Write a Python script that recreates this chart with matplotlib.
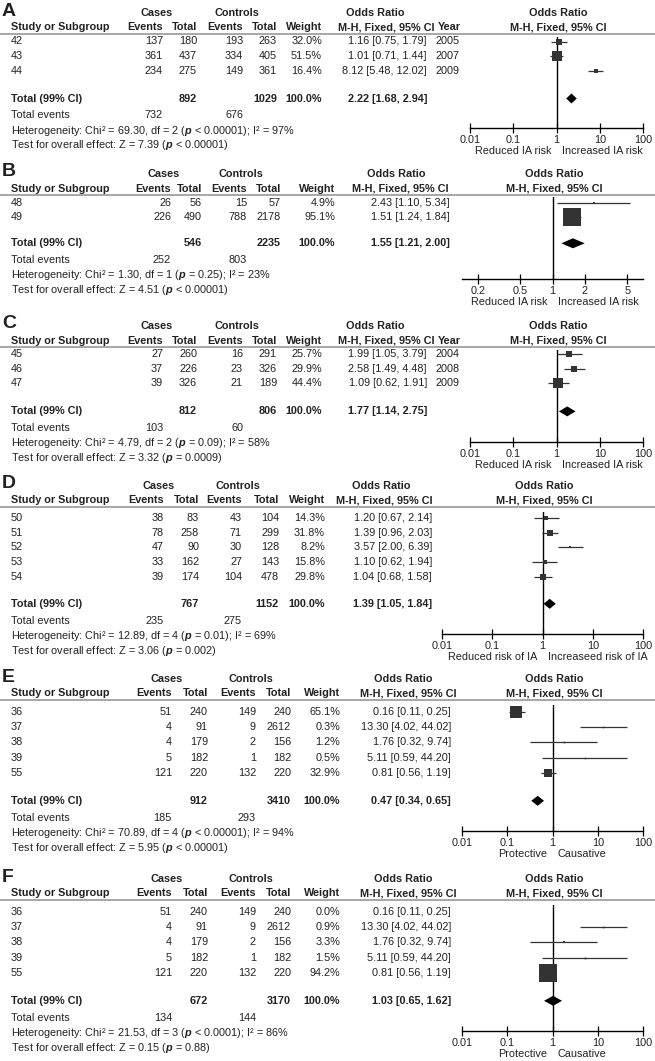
import matplotlib.pyplot as plt
from matplotlib.lines import Line2D
from matplotlib.ticker import NullLocator
from matplotlib.transforms import offset_copy

plt.rcParams['font.family'] = ['Liberation Sans', 'DejaVu Sans']
plt.rcParams['mathtext.fontset'] = 'custom'
plt.rcParams['mathtext.rm'] = 'Liberation Sans'
plt.rcParams['mathtext.bfit'] = 'Liberation Sans:bold:italic'

P = r'$\mathbfit{p}$'

# ---- panel A
a_study = ['42', '43', '44']
a_case_ev = [137, 361, 234]
a_case_n = [180, 437, 275]
a_ctrl_ev = [193, 334, 149]
a_ctrl_n = [263, 405, 361]
a_weight = [32.0, 51.5, 16.4]
a_or = [1.16, 1.01, 8.12]
a_lo = [0.75, 0.71, 5.48]
a_hi = [1.79, 1.44, 12.02]
a_year = [2005, 2007, 2009]
a_total = [892, 1029, 2.22, 1.68, 2.94]
a_events = [732, 676]
a_het = 'Heterogeneity: Chi² = 69.30, df = 2 (' + P + ' < 0.00001); I² = 97%'
a_test = 'Test for overall effect: Z = 7.39 (' + P + ' < 0.00001)'
a_ticks = [0.01, 0.1, 1, 10, 100]
a_dir = ['Reduced IA risk', 'Increased IA risk']

# ---- panel B
b_study = ['48', '49']
b_case_ev = [26, 226]
b_case_n = [56, 490]
b_ctrl_ev = [15, 788]
b_ctrl_n = [57, 2178]
b_weight = [4.9, 95.1]
b_or = [2.43, 1.51]
b_lo = [1.10, 1.24]
b_hi = [5.34, 1.84]
b_total = [546, 2235, 1.55, 1.21, 2.00]
b_events = [252, 803]
b_het = 'Heterogeneity: Chi² = 1.30, df = 1 (' + P + ' = 0.25); I² = 23%'
b_test = 'Test for overall effect: Z = 4.51 (' + P + ' < 0.00001)'
b_ticks = [0.2, 0.5, 1, 2, 5]
b_dir = ['Reduced IA risk', 'Increased IA risk']

# ---- panel C
c_study = ['45', '46', '47']
c_case_ev = [27, 37, 39]
c_case_n = [260, 226, 326]
c_ctrl_ev = [16, 23, 21]
c_ctrl_n = [291, 326, 189]
c_weight = [25.7, 29.9, 44.4]
c_or = [1.99, 2.58, 1.09]
c_lo = [1.05, 1.49, 0.62]
c_hi = [3.79, 4.48, 1.91]
c_year = [2004, 2008, 2009]
c_total = [812, 806, 1.77, 1.14, 2.75]
c_events = [103, 60]
c_het = 'Heterogeneity: Chi² = 4.79, df = 2 (' + P + ' = 0.09); I² = 58%'
c_test = 'Test for overall effect: Z = 3.32 (' + P + ' = 0.0009)'
c_ticks = [0.01, 0.1, 1, 10, 100]
c_dir = ['Reduced IA risk', 'Increased IA risk']

# ---- panel D
d_study = ['50', '51', '52', '53', '54']
d_case_ev = [38, 78, 47, 33, 39]
d_case_n = [83, 258, 90, 162, 174]
d_ctrl_ev = [43, 71, 30, 27, 104]
d_ctrl_n = [104, 299, 128, 143, 478]
d_weight = [14.3, 31.8, 8.2, 15.8, 29.8]
d_or = [1.20, 1.39, 3.57, 1.10, 1.04]
d_lo = [0.67, 0.96, 2.00, 0.62, 0.68]
d_hi = [2.14, 2.03, 6.39, 1.94, 1.58]
d_total = [767, 1152, 1.39, 1.05, 1.84]
d_events = [235, 275]
d_het = 'Heterogeneity: Chi² = 12.89, df = 4 (' + P + ' = 0.01); I² = 69%'
d_test = 'Test for overall effect: Z = 3.06 (' + P + ' = 0.002)'
d_ticks = [0.01, 0.1, 1, 10, 100]
d_dir = ['Reduced risk of IA', 'Increaseed risk of IA']

# ---- panel E
e_study = ['36', '37', '38', '39', '55']
e_case_ev = [51, 4, 4, 5, 121]
e_case_n = [240, 91, 179, 182, 220]
e_ctrl_ev = [149, 9, 2, 1, 132]
e_ctrl_n = [240, 2612, 156, 182, 220]
e_weight = [65.1, 0.3, 1.2, 0.5, 32.9]
e_or = [0.16, 13.30, 1.76, 5.11, 0.81]
e_lo = [0.11, 4.02, 0.32, 0.59, 0.56]
e_hi = [0.25, 44.02, 9.74, 44.20, 1.19]
e_total = [912, 3410, 0.47, 0.34, 0.65]
e_events = [185, 293]
e_het = 'Heterogeneity: Chi² = 70.89, df = 4 (' + P + ' < 0.00001); I² = 94%'
e_test = 'Test for overall effect: Z = 5.95 (' + P + ' < 0.00001)'
e_ticks = [0.01, 0.1, 1, 10, 100]
e_dir = ['Protective', 'Causative']

# ---- panel F
f_study = ['36', '37', '38', '39', '55']
f_case_ev = [51, 4, 4, 5, 121]
f_case_n = [240, 91, 179, 182, 220]
f_ctrl_ev = [149, 9, 2, 1, 132]
f_ctrl_n = [240, 2612, 156, 182, 220]
f_weight = [0.0, 0.9, 3.3, 1.5, 94.2]
f_or = [0.16, 13.30, 1.76, 5.11, 0.81]
f_lo = [0.11, 4.02, 0.32, 0.59, 0.56]
f_hi = [0.25, 44.02, 9.74, 44.20, 1.19]
f_total = [672, 3170, 1.03, 0.65, 1.62]
f_events = [134, 144]
f_het = 'Heterogeneity: Chi² = 21.53, df = 3 (' + P + ' < 0.0001); I² = 86%'
f_test = 'Test for overall effect: Z = 0.15 (' + P + ' = 0.88)'
f_ticks = [0.01, 0.1, 1, 10, 100]
f_dir = ['Protective', 'Causative']

W, H = 655, 1061
FS = 7.8
TXT = '#222222'
SQ = '#333333'

fig = plt.figure(figsize=(W / 100, H / 100), dpi=100)


def txt(x, y, s, ha='left', bold=False, size=FS):
    fig.text(x / W, 1 - y / H, s, ha=ha, va='center', fontsize=size,
             fontweight='bold' if bold else 'normal', color=TXT)


def panel(letter, study, case_ev, case_n, ctrl_ev, ctrl_n, weight, orr, lo, hi,
          total, events, het, test, ticks, dirs, year, lay):
    n = len(study)
    cols = lay['cols']
    row0, dy = lay['row0'], lay['dy']
    rows = [row0 + i * dy for i in range(n)]
    ytot = rows[-1] + lay['gap']

    txt(2, lay['h1'] - 2, letter, bold=True, size=14)
    txt((cols[0] + cols[1]) / 2 - 23, lay['h1'], 'Cases', ha='center', bold=True)
    txt((cols[2] + cols[3]) / 2 - 23, lay['h1'], 'Controls', ha='center', bold=True)
    txt(lay['orh'], lay['h1'], 'Odds Ratio', ha='center', bold=True)
    fx0, fx1 = lay['fx']
    fc = (fx0 + fx1) / 2 + 2
    txt(fc, lay['h1'], 'Odds Ratio', ha='center', bold=True)

    h2 = lay['h1'] + 14.5
    txt(11, h2, 'Study or Subgroup', bold=True)
    for c, s in zip(cols, ['Events', 'Total', 'Events', 'Total', 'Weight']):
        txt(c, h2, s, ha='right', bold=True)
    txt(lay['orhr'], h2, 'M-H, Fixed, 95% CI', ha='right', bold=True)
    if year:
        txt(461, h2, 'Year', ha='right', bold=True)
    txt(fc, h2, 'M-H, Fixed, 95% CI', ha='center', bold=True)

    ly = 1 - (h2 + 6.5) / H
    fig.add_artist(Line2D([0, 1], [ly, ly], color='#909090', lw=1.1))

    for i in range(n):
        y = rows[i]
        txt(11, y, study[i])
        vals = [case_ev[i], case_n[i], ctrl_ev[i], ctrl_n[i]]
        for c, v in zip(cols[:4], vals):
            txt(c, y, str(v), ha='right')
        txt(cols[4], y, '%.1f%%' % weight[i], ha='right')
        txt(lay['orr'], y, '%.2f [%.2f, %.2f]' % (orr[i], lo[i], hi[i]), ha='right')
        if year:
            txt(460, y, str(year[i]), ha='right')

    txt(11, ytot, 'Total (99% CI)', bold=True)
    txt(cols[1], ytot, str(total[0]), ha='right', bold=True)
    txt(cols[3], ytot, str(total[1]), ha='right', bold=True)
    txt(cols[4], ytot, '100.0%', ha='right', bold=True)
    txt(lay['orr'], ytot, '%.2f [%.2f, %.2f]' % tuple(total[2:]), ha='right', bold=True)
    txt(11, ytot + 17, 'Total events')
    txt(cols[0], ytot + 17, str(events[0]), ha='right')
    txt(cols[2], ytot + 17, str(events[1]), ha='right')
    txt(11, ytot + 32, het)
    txt(11, ytot + 47, test)

    # forest plot
    axis_y, vtop = lay['axis'], lay['vtop']
    ax = fig.add_axes([fx0 / W, 1 - axis_y / H, (fx1 - fx0) / W, (axis_y - vtop) / H])
    ax.patch.set_visible(False)
    ax.set_xscale('log')
    ax.set_xlim(*lay['xlim'])
    ax.set_ylim((axis_y - row0) / dy, (vtop - row0) / dy)
    for s in ['left', 'right', 'top']:
        ax.spines[s].set_visible(False)
    ax.spines['bottom'].set_linewidth(1.0)
    ax.set_yticks([])
    ax.set_xticks(ticks, labels=['%g' % t for t in ticks])
    ax.xaxis.set_minor_locator(NullLocator())
    ax.tick_params(axis='x', direction='inout', length=7, width=0.9,
                   pad=1.5, labelsize=FS, labelcolor=TXT)
    ax.axvline(1, color='black', lw=1.0, zorder=1)

    for i in range(n):
        if weight[i] <= 0:
            continue
        ax.hlines(i, lo[i], hi[i], color=SQ, lw=0.9, zorder=2)
        side = 0.17 * weight[i] + 1.5
        ax.plot(orr[i], i, marker='s', ms=side * 0.72, color=SQ, mec=SQ,
                mew=0, zorder=3)
    it = (ytot - row0) / dy
    hh = 5.0 / dy
    ax.fill([total[3], total[2], total[4], total[2]], [it, it - hh, it, it + hh],
            color='black', lw=0, zorder=4)

    ydir = (axis_y + 23 - row0) / dy
    ax.text(1, ydir, dirs[0], transform=offset_copy(ax.transData, fig=fig, x=-5, units='dots'),
            ha='right', va='center', fontsize=FS, color=TXT, clip_on=False)
    ax.text(1, ydir, dirs[1], transform=offset_copy(ax.transData, fig=fig, x=5, units='dots'),
            ha='left', va='center', fontsize=FS, color=TXT, clip_on=False)


lay_a = dict(h1=13, row0=41.5, dy=14.5, gap=28, vtop=37, axis=128,
             cols=[163, 197, 243, 277, 322], orr=427, orhr=435, orh=375,
             fx=(470, 643), xlim=(0.01, 100))
lay_b = dict(h1=174, row0=203, dy=14.3, gap=26, vtop=197, axis=279,
             cols=[171, 202, 247, 281, 335], orr=450, orhr=449, orh=396,
             fx=(462, 643), xlim=(1 / 7, 7))
lay_c = dict(h1=326, row0=354, dy=14.7, gap=28, vtop=350, axis=442,
             cols=[163, 197, 243, 277, 322], orr=427, orhr=435, orh=375,
             fx=(470, 643), xlim=(0.01, 100))
lay_d = dict(h1=486, row0=518, dy=14.7, gap=27, vtop=512, axis=634,
             cols=[164, 199, 242, 279, 325], orr=432, orhr=432, orh=381,
             fx=(442, 643), xlim=(0.01, 100))
lay_e = dict(h1=679, row0=712, dy=15.2, gap=28, vtop=705, axis=831,
             cols=[172, 208, 256, 291, 340], orr=451, orhr=457, orh=403,
             fx=(462, 643), xlim=(0.01, 100))
lay_f = dict(h1=879, row0=912, dy=15.2, gap=28, vtop=905, axis=1031,
             cols=[172, 208, 256, 291, 340], orr=451, orhr=457, orh=403,
             fx=(462, 643), xlim=(0.01, 100))

panel('A', a_study, a_case_ev, a_case_n, a_ctrl_ev, a_ctrl_n, a_weight, a_or, a_lo, a_hi,
      a_total, a_events, a_het, a_test, a_ticks, a_dir, a_year, lay_a)
panel('B', b_study, b_case_ev, b_case_n, b_ctrl_ev, b_ctrl_n, b_weight, b_or, b_lo, b_hi,
      b_total, b_events, b_het, b_test, b_ticks, b_dir, None, lay_b)
panel('C', c_study, c_case_ev, c_case_n, c_ctrl_ev, c_ctrl_n, c_weight, c_or, c_lo, c_hi,
      c_total, c_events, c_het, c_test, c_ticks, c_dir, c_year, lay_c)
panel('D', d_study, d_case_ev, d_case_n, d_ctrl_ev, d_ctrl_n, d_weight, d_or, d_lo, d_hi,
      d_total, d_events, d_het, d_test, d_ticks, d_dir, None, lay_d)
panel('E', e_study, e_case_ev, e_case_n, e_ctrl_ev, e_ctrl_n, e_weight, e_or, e_lo, e_hi,
      e_total, e_events, e_het, e_test, e_ticks, e_dir, None, lay_e)
panel('F', f_study, f_case_ev, f_case_n, f_ctrl_ev, f_ctrl_n, f_weight, f_or, f_lo, f_hi,
      f_total, f_events, f_het, f_test, f_ticks, f_dir, None, lay_f)

fig.savefig('out.png', dpi=100, facecolor='white')
